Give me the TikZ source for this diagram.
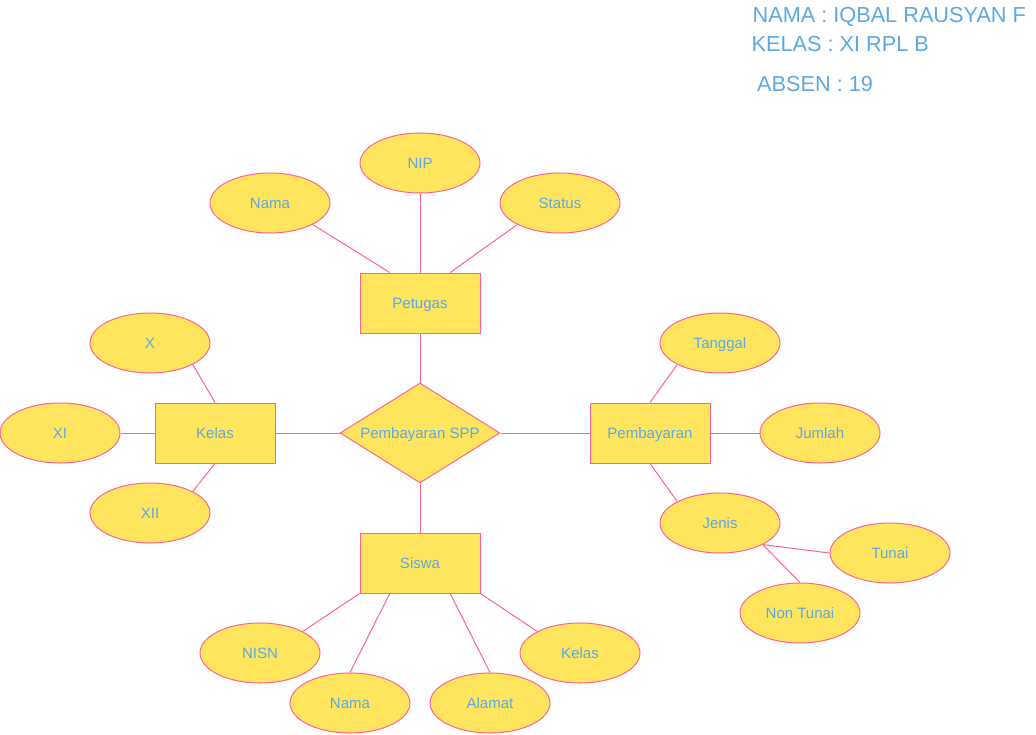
\documentclass[tikz,border=0pt]{standalone}
\usepackage{fontspec}
\setmainfont{Liberation Sans}
\usetikzlibrary{calc,shapes.geometric}
\definecolor{kuning}{HTML}{FFE45E}
\definecolor{merah}{HTML}{FF6392}
\definecolor{biru}{HTML}{5AA9E6}
\tikzset{
	entitas/.style={draw=merah, fill=kuning, line width=1pt, minimum width=120pt, minimum height=60pt, inner sep=0pt, text=biru, font=\fontsize{15}{18}\selectfont, text height=10.7pt, text depth=0pt},
	atribut/.style={entitas, ellipse},
	relasi/.style={entitas, diamond, aspect=1.6, minimum width=160pt, minimum height=100pt},
	garis/.style={draw=merah, line width=1pt},
	judul/.style={anchor=base west, inner sep=0pt, text=biru, font=\fontsize{21.7}{26}\selectfont}
}

\begin{document}
\begin{tikzpicture}[x=1pt, y=-1pt]
			%%%%% START %%%%%
			\useasboundingbox (0, 0) rectangle (1036, 734);
			
			\node[judul] (nama) at (752.4, 22) {NAMA : IQBAL RAUSYAN F};
			\node[judul] (kls) at (751.4, 51) {KELAS : XI RPL B};
			\node[judul] (absen) at (757, 91) {ABSEN : 19};
			
			\node[relasi] (spp) at (420, 433) {Pembayaran SPP};
			
			\node[entitas] (Petugas) at (420, 303) {Petugas};
			\node[atribut] (NamaP) at (270, 203) {Nama};
			\node[atribut] (NIP) at (420, 163) {NIP};
			\node[atribut] (Status) at (560, 203) {Status};
			
			\node[entitas] (Kelas) at (215, 433) {Kelas};
			\node[atribut] (X) at (150, 343) {X};
			\node[atribut] (XI) at (60, 433) {XI};
			\node[atribut] (XII) at (150, 513) {XII};
			
			\node[entitas] (Bayar) at (650, 433) {Pembayaran};
			\node[atribut] (Tanggal) at (720, 343) {Tanggal};
			\node[atribut] (Jumlah) at (820, 433) {Jumlah};
			\node[atribut] (Jenis) at (720, 523) {Jenis};
			\node[atribut] (Tunai) at (890, 553) {Tunai};
			\node[atribut] (NonTunai) at (800, 613) {Non Tunai};
			
			\node[entitas] (Siswa) at (420, 563) {Siswa};
			\node[atribut] (NISN) at (260, 653) {NISN};
			\node[atribut] (NamaS) at (350, 703) {Nama};
			\node[atribut] (Alamat) at (490, 703) {Alamat};
			\node[atribut] (KelasS) at (580, 653) {Kelas};
			
			% petugas
			\draw[garis] (NamaP.south east) -- ($(Petugas.north west)!0.25!(Petugas.north east)$);
			\draw[garis] (NIP.south) -- (Petugas.north);
			\draw[garis] (Status.south west) -- ($(Petugas.north west)!0.75!(Petugas.north east)$);
			\draw[garis] (Petugas.south) -- (spp.north);
			
			% kelas
			\draw[garis] (X.south east) -- (Kelas.north);
			\draw[garis] (XI.east) -- (Kelas.west);
			\draw[garis] (XII.north east) -- (Kelas.south);
			\draw[garis] (Kelas.east) -- (spp.west);
			
			% pembayaran
			\draw[garis] (spp.east) -- (Bayar.west);
			\draw[garis] (Bayar.north) -- (Tanggal.south west);
			\draw[garis] (Bayar.east) -- (Jumlah.west);
			\draw[garis] (Bayar.south) -- (Jenis.north west);
			\draw[garis] (Jenis.south east) -- (Tunai.west);
			\draw[garis] (Jenis.south east) -- (NonTunai.north);
			
			% siswa
			\draw[garis] (spp.south) -- (Siswa.north);
			\draw[garis] (Siswa.south west) -- (NISN.north east);
			\draw[garis] ($(Siswa.south west)!0.25!(Siswa.south east)$) -- (NamaS.north);
			\draw[garis] ($(Siswa.south west)!0.75!(Siswa.south east)$) -- (Alamat.north);
			\draw[garis] (Siswa.south east) -- (KelasS.north west);
			
			%%%%% END %%%%%
\end{tikzpicture}
\end{document}
